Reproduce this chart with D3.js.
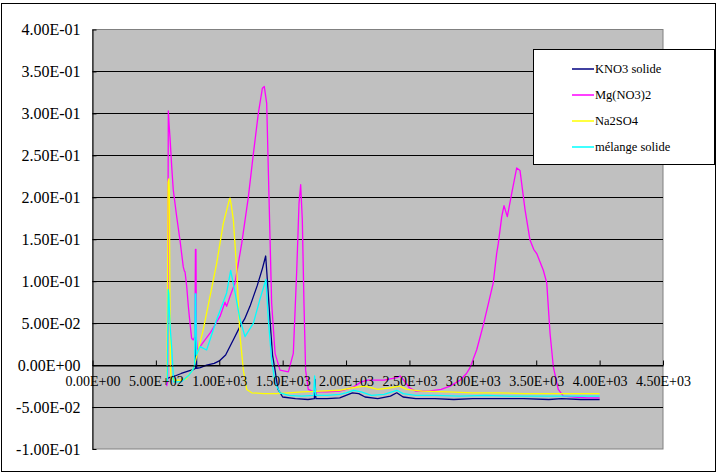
<!DOCTYPE html>
<html>
<head>
<meta charset="utf-8">
<script src="https://cdn.jsdelivr.net/npm/d3@7"></script>
<style>
  body { margin: 0; background: #fff; }
  svg { display: block; }
  text { font-family: "Liberation Serif", "Times New Roman", serif; fill: #000; }
</style>
</head>
<body>
<svg id="chart" width="717" height="473"></svg>
<script>
// values: [x, y]
var kno3 = [[590,-0.016],[620,-0.014],[650,-0.013],[700,-0.010],[760,-0.007],[800,-0.005],[812,-0.004],[816,0.065],[822,-0.004],
  [850,-0.003],[900,0.000],[960,0.002],[1000,0.005],[1050,0.012],[1110,0.030],[1160,0.045],[1200,0.055],[1242,0.070],[1300,0.095],
  [1340,0.115],[1366,0.130],[1380,0.100],[1400,0.054],[1420,0.012],[1440,-0.006],[1463,-0.029],[1500,-0.038],[1600,-0.040],
  [1700,-0.041],[1750,-0.040],[1755,-0.017],[1762,-0.040],[1850,-0.040],[1950,-0.039],[2000,-0.036],[2050,-0.033],[2100,-0.034],
  [2150,-0.038],[2250,-0.040],[2350,-0.037],[2400,-0.033],[2450,-0.038],[2550,-0.040],[2700,-0.040],[2850,-0.041],[3000,-0.040],
  [3200,-0.040],[3400,-0.040],[3600,-0.041],[3700,-0.040],[3850,-0.041],[4000,-0.041]];

var mgno3 = [[585,-0.025],[592,-0.020],[598,0.303],[605,0.285],[611,0.272],[625,0.236],[637,0.209],[664,0.177],[690,0.149],
  [716,0.117],[725,0.112],[730,0.111],[743,0.094],[756,0.070],[769,0.050],[782,0.032],[795,0.030],[808,0.034],[812,0.138],
  [816,0.138],[820,0.030],[826,0.018],[848,0.022],[927,0.038],[1006,0.058],[1045,0.075],[1058,0.070],[1085,0.082],[1124,0.098],
  [1177,0.145],[1229,0.200],[1269,0.252],[1308,0.300],[1340,0.330],[1355,0.332],[1374,0.312],[1387,0.232],[1400,0.153],
  [1413,0.074],[1440,0.014],[1479,-0.006],[1545,-0.008],[1584,0.014],[1611,0.113],[1629,0.193],[1642,0.215],[1655,0.173],
  [1668,0.074],[1681,-0.006],[1702,-0.029],[1750,-0.032],[1850,-0.032],[1950,-0.031],[2000,-0.029],[2060,-0.026],[2120,-0.020],
  [2170,-0.018],[2300,-0.018],[2400,-0.015],[2426,-0.013],[2450,-0.017],[2500,-0.027],[2550,-0.031],[2650,-0.031],[2750,-0.029],
  [2820,-0.025],[2899,-0.018],[2950,-0.010],[2978,-0.003],[3030,0.018],[3083,0.048],[3130,0.078],[3161,0.098],[3188,0.133],
  [3201,0.145],[3228,0.177],[3246,0.190],[3272,0.177],[3307,0.205],[3346,0.235],[3372,0.232],[3412,0.185],[3451,0.149],
  [3480,0.138],[3504,0.133],[3556,0.113],[3583,0.098],[3609,0.038],[3635,-0.002],[3674,-0.029],[3714,-0.037],[3800,-0.038],
  [3900,-0.039],[4000,-0.039]];

var na2so4 = [[588,-0.020],[596,0.218],[602,0.222],[606,0.210],[610,0.100],[614,0.000],[620,-0.015],[640,-0.018],[700,-0.018],
  [740,-0.016],[769,-0.010],[800,-0.003],[821,0.010],[873,0.042],[927,0.082],[979,0.121],[1032,0.169],[1079,0.197],[1085,0.199],
  [1095,0.190],[1111,0.173],[1138,0.113],[1150,0.074],[1164,0.034],[1190,-0.006],[1216,-0.029],[1256,-0.033],[1350,-0.034],
  [1450,-0.034],[1550,-0.033],[1650,-0.032],[1800,-0.031],[1950,-0.030],[2050,-0.027],[2150,-0.025],[2250,-0.029],[2350,-0.027],
  [2420,-0.025],[2480,-0.029],[2600,-0.031],[2800,-0.032],[3000,-0.033],[3200,-0.033],[3400,-0.034],[3600,-0.034],[3800,-0.034],
  [4000,-0.034]];

var melange = [[590,-0.020],[597,0.090],[602,0.085],[608,0.060],[615,0.040],[625,0.020],[640,-0.020],[700,-0.020],[760,-0.012],
  [790,-0.006],[806,0.000],[810,0.085],[815,0.085],[820,0.012],[848,0.022],[900,0.018],[979,0.054],[1058,0.086],[1090,0.113],
  [1125,0.086],[1164,0.054],[1203,0.034],[1269,0.050],[1320,0.078],[1368,0.102],[1387,0.054],[1413,0.006],[1440,-0.021],
  [1479,-0.033],[1550,-0.036],[1650,-0.037],[1745,-0.036],[1752,-0.013],[1760,-0.036],[1850,-0.036],[1950,-0.035],[2000,-0.033],
  [2060,-0.030],[2120,-0.032],[2200,-0.036],[2300,-0.035],[2400,-0.030],[2450,-0.034],[2550,-0.036],[2700,-0.036],[2900,-0.037],
  [3100,-0.036],[3300,-0.037],[3500,-0.037],[3700,-0.037],[3900,-0.037],[4000,-0.037]];

var seriesNames = ['KNO3 solide', 'Mg(NO3)2', 'Na2SO4', 'mélange solide'];
var seriesColors = ['#000080', '#ff00ff', '#ffff00', '#00ffff'];
var seriesData = [kno3, mgno3, na2so4, melange];

var xTicks = [0, 500, 1000, 1500, 2000, 2500, 3000, 3500, 4000, 4500];
var yTicks = [-0.1, -0.05, 0, 0.05, 0.1, 0.15, 0.2, 0.25, 0.3, 0.35, 0.4];

var plotLeft = 92.5, plotRight = 663, plotTop = 29.5, plotBottom = 449;

var xs = d3.scaleLinear().domain([0, 4500]).range([plotLeft, plotRight]);
var ys = d3.scaleLinear().domain([-0.1, 0.4]).range([plotBottom, plotTop]);

function sci(v) {
    var s = v.toExponential(2).toUpperCase();
    var parts = s.split('E');
    var e = parseInt(parts[1], 10);
    var sign = e < 0 ? '-' : '+';
    e = Math.abs(e);
    return parts[0] + 'E' + sign + (e < 10 ? '0' + e : e);
}

var svg = d3.select('#chart');

// outer frame
svg.append('rect')
    .attr('x', 1.5).attr('y', 3.5)
    .attr('width', 714).attr('height', 468)
    .attr('fill', '#fff')
    .attr('stroke', '#000');

// plot area
svg.append('rect')
    .attr('x', plotLeft).attr('y', plotTop)
    .attr('width', plotRight - plotLeft).attr('height', plotBottom - plotTop)
    .attr('fill', '#c0c0c0')
    .attr('stroke', '#808080');

// gridlines
svg.append('g').selectAll('line')
    .data(yTicks.filter(function (d) { return d > -0.1 && d < 0.4; }))
    .enter().append('line')
    .attr('x1', plotLeft).attr('x2', plotRight)
    .attr('y1', function (d) { return Math.round(ys(d)) + 0.5; })
    .attr('y2', function (d) { return Math.round(ys(d)) + 0.5; })
    .attr('stroke', '#000');

// y axis
var yAxis = svg.append('g')
    .attr('transform', 'translate(' + plotLeft + ',0)')
    .call(d3.axisLeft(ys).tickValues(yTicks).tickFormat(sci).tickSize(-4).tickSizeOuter(0).tickPadding(12));
yAxis.selectAll('text').style('font-size', '16px').style('font-family', '"Liberation Serif", "Times New Roman", serif');
yAxis.select('.domain').attr('stroke', '#000');

// series
var line = d3.line()
    .x(function (d) { return xs(d[0]); })
    .y(function (d) { return ys(d[1]); });

svg.append('g').selectAll('path')
    .data(seriesData)
    .enter().append('path')
    .attr('d', line)
    .attr('fill', 'none')
    .attr('stroke', function (d, i) { return seriesColors[i]; })
    .attr('stroke-width', 1.3)
    .attr('stroke-linejoin', 'round');

// x axis crossing at zero
var xAxis = svg.append('g')
    .attr('transform', 'translate(0,' + (Math.round(ys(0)) + 0.5) + ')')
    .call(d3.axisBottom(xs).tickValues(xTicks).tickFormat(sci).tickSize(-5).tickSizeOuter(0).tickPadding(11));
xAxis.selectAll('text').style('font-size', '14px').style('font-family', '"Liberation Serif", "Times New Roman", serif');
xAxis.select('.domain').attr('stroke', '#000');

// legend
var legend = svg.append('g');
legend.append('rect')
    .attr('x', 533.5).attr('y', 49.5)
    .attr('width', 181).attr('height', 115)
    .attr('fill', '#fff')
    .attr('stroke', '#000');

var item = legend.selectAll('g.item')
    .data(seriesNames)
    .enter().append('g')
    .attr('class', 'item')
    .attr('transform', function (d, i) { return 'translate(0,' + (69 + i * 26) + ')'; });

item.append('line')
    .attr('x1', 572).attr('x2', 594)
    .attr('stroke', function (d, i) { return seriesColors[i]; })
    .attr('stroke-width', 1.5);

item.append('text')
    .attr('x', 595)
    .attr('dy', '0.33em')
    .style('font-size', '12.5px')
    .text(function (d) { return d; });
</script>
</body>
</html>
